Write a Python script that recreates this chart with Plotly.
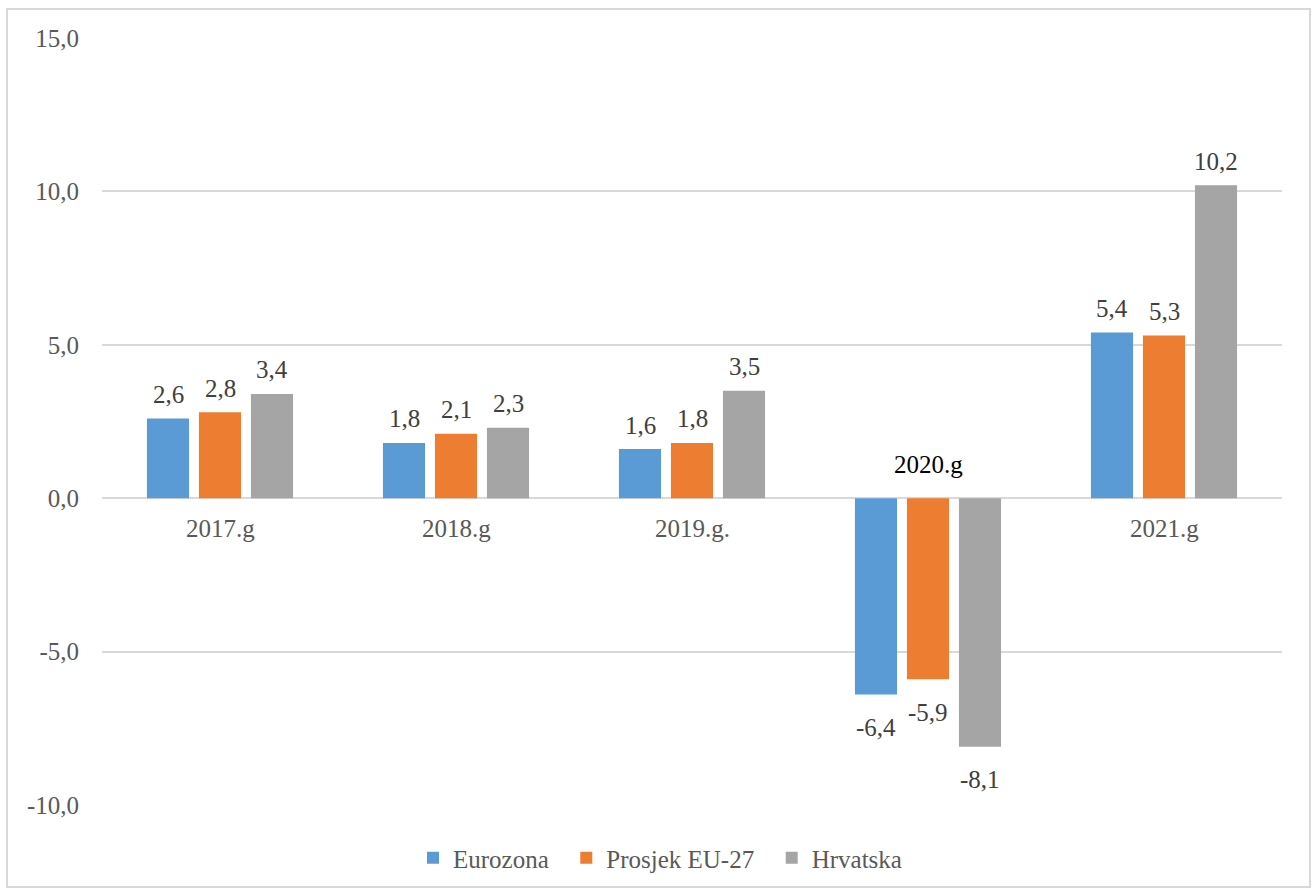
import plotly.graph_objects as go

categories = ["2017.g", "2018.g", "2019.g.", "2020.g", "2021.g"]
eurozona = [2.6, 1.8, 1.6, -6.4, 5.4]
eu27 = [2.8, 2.1, 1.8, -5.9, 5.3]
hrvatska = [3.4, 2.3, 3.5, -8.1, 10.2]
series_names = ["Eurozona", "Prosjek EU-27", "Hrvatska"]
tick_vals = [-10, -5, 0, 5, 10, 15]
tick_text = ["-10,0", "-5,0", "0,0", "5,0", "10,0", "15,0"]

colors = ["#5B9BD5", "#ED7D31", "#A5A5A5"]
FONT = "'Times New Roman', 'Liberation Serif', Tinos, 'Noto Serif', 'DejaVu Serif', serif"

def fmt(v):
    return f"{v:.1f}".replace(".", ",")

fig = go.Figure()
all_series = [eurozona, eu27, hrvatska]
pads = ["\u00a0\u00a0", "\u00a0\u00a0", ""]
for name, vals, col, pad in zip(series_names, all_series, colors, pads):
    fig.add_trace(go.Bar(x=categories, y=vals, name=name + pad, marker_color=col,
                         marker_line_width=0, hoverinfo="skip"))

annotations = []
for i, vals in enumerate(all_series):
    for c, v in zip(categories, vals):
        annotations.append(dict(
            x=c, y=v, xref="x", yref="y", text=fmt(v), showarrow=False,
            xshift=(i - 1) * 52, yshift=24 if v >= 0 else -33,
            yanchor="middle", font=dict(family=FONT, size=25, color="#404040")))

for c in categories:
    if c == "2020.g":
        annotations.append(dict(x=c, y=0, xref="x", yref="y", text=c, showarrow=False,
                                yshift=34, yanchor="middle",
                                font=dict(family=FONT, size=25, color="#000000")))
    else:
        annotations.append(dict(x=c, y=0, xref="x", yref="y", text=c, showarrow=False,
                                yshift=-30, yanchor="middle",
                                font=dict(family=FONT, size=25, color="#595959")))

L, R, T, B = 102, 31, 38, 83
W, H = 1313, 888
pw, ph = W - L - R, H - T - B

def px_to_paper_x(px):
    return (px - L) / pw

def px_to_paper_y(py):
    return (H - B - py) / ph

shapes = [dict(type="rect", xref="paper", yref="paper",
               x0=px_to_paper_x(7), x1=px_to_paper_x(1310),
               y0=px_to_paper_y(887), y1=px_to_paper_y(9),
               line=dict(color="#D9D9D9", width=2), fillcolor="rgba(0,0,0,0)", layer="below")]

fig.update_layout(
    width=W, height=H, autosize=False,
    margin=dict(l=L, r=R, t=T, b=B, autoexpand=False),
    paper_bgcolor="white", plot_bgcolor="white",
    barmode="group", bargap=0.339, bargroupgap=0.19,
    font=dict(family=FONT, size=25, color="#595959"),
    xaxis=dict(showticklabels=False, showgrid=False, zeroline=False, showline=False,
               ticks=""),
    yaxis=dict(range=[-10, 15], tickvals=tick_vals, ticktext=tick_text,
               showgrid=True, gridcolor="#D9D9D9", gridwidth=1.5,
               zeroline=True, zerolinecolor="#D9D9D9", zerolinewidth=1.5,
               showline=False, ticks="", ticklabelstandoff=22,
               tickfont=dict(family=FONT, size=25, color="#595959")),
    legend=dict(orientation="h", x=px_to_paper_x(660), xanchor="center", y=px_to_paper_y(858),
                yanchor="middle", font=dict(family=FONT, size=25, color="#595959"),
                itemwidth=30, traceorder="normal"),
    annotations=annotations, shapes=shapes, showlegend=True,
)

fig.write_html("out.html", config={"displayModeBar": False},
               post_script="document.body.style.margin='0';document.body.style.overflow='hidden';")
